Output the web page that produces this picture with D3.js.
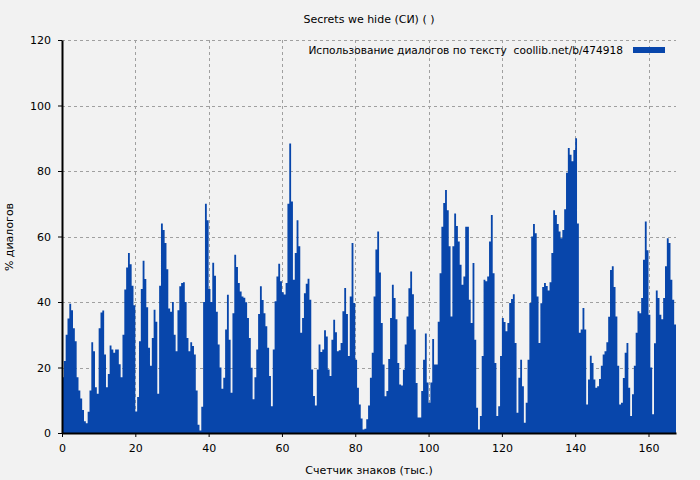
<!DOCTYPE html>
<html><head><meta charset="utf-8">
<script src="https://cdn.jsdelivr.net/npm/d3@7"></script>
<style>body{margin:0;background:#f2f2f2}svg{display:block}text{font-family:"DejaVu Sans",sans-serif;font-size:11px;fill:#000}</style>
</head><body><svg id="c" width="700" height="480"></svg>
<script>
const title = "Secrets we hide (СИ) ( )";
const legendLabel = "Использование диалогов по тексту  coollib.net/b/474918";
const xLabel = "Счетчик знаков (тыс.)";
const yLabel = "% диалогов";
const xTicks = [0,20,40,60,80,100,120,140,160];
const yTicks = [0,20,40,60,80,100,120];
const step = 0.5; // thousand characters per bar
const values = [
17,22,30,35,39.5,37.5,32,28,17,13, 10.5,7,3.6,3,6.5,13,27.7,25,14,12,
32,36.8,37.4,24,14,18,26.7,25.5,24.5,25.5, 25.5,21,17,30,43.8,50.5,55,51.5,45,39,
6.6,11,28,44,52.6,47,38.4,26,20.5,29, 37.6,34,12,45,64,62,58,50,38,37,
40,30,25,37.5,44.8,45.8,46,40,29,25, 27.7,26.6,24,13,2.5,0.8,8,40,70,65,
44,40,52,48,37,27,20,13.5,16.9,31.6, 42.2,28.5,12.3,36.6,54.4,50.7,45.8,43.2,41.7,41.3,
39.9,35.1,29,19.9,10.3,17,25.5,36.3,44.8,40.6, 36.6,32.6,26,17.4,8.2,25.5,40.2,47.8,51.7,46.3,
43,42.3,45.8,70,88.4,70.7,46.8,55,65,57, 30.6,35.1,42.7,45.6,47.1,40.7,19.4,11.3,8.4,19.4,
27,24.7,25.5,31.4,29.5,19.4,17.4,28.5,34.6,30.8, 25,25.3,27.5,37.2,44.3,36.3,23.5,41.7,58,39.7,
22.4,13.8,8.7,4.4,1.1,1.3,4.2,8.4,16.9,24.5, 41.7,56,61.5,49,33.6,20.9,11.2,12.8,22.6,35.1,
45.3,41.2,34.7,21.4,14.8,14.5,19.3,27,35.6,44.2, 49.3,42.4,31.6,15.3,4.7,4.7,12.8,22.4,30.4,15.4,
9.2,15.4,28.7,20.9,20.9,34,48.8,63,70.2,74.2, 68,57,35.6,57,67,63.2,58.5,51.4,45.3,47.8,
63,63,40.7,33.6,51.9,28.5,7.7,1.1,5.2,23.5, 46.8,46.3,47.8,58.5,66.6,48.8,21.4,5.2,8.2,23.5,
35.1,33.9,31.1,33.6,39.7,40.9,42.4,27.5,6.2,16.9, 22.4,14.3,3.1,9.2,22.4,39.7,60,63.8,61,41.7,
27.5,39.6,44.6,45.8,44.9,43.5,46,55,68,66.6, 63.8,61.5,59.5,62,68.3,79.5,87,85,83,86.4,
90,64,30.6,31.6,38.2,31.6,8.7,16.3,23.6,21.4, 16.3,13.8,14.3,16.5,20.5,24,25,27.7,35.5,49.8,
50.9,44.6,35.6,20.5,8.7,9.2,16.8,24.5,27.5,13.8, 5.2,11.8,20.5,30.6,37.2,36.6,41.2,52.9,64.6,55.8,
36.1,20,5.7,27.4,43.5,41.2,36.1,34.7,41.2,50.9, 59.5,58,46.8,40.7,33.1
];
const color = "#0846ab";
const svg = d3.select("#c");
const m = {l:62, r:676, t:40, b:433};
const xMax = values.length*step;
const x = d3.scaleLinear().domain([0, xMax]).range([m.l, m.r]);
const y = d3.scaleLinear().domain([0, 120]).range([m.b, m.t]);

const grid = svg.append("g").attr("stroke","#a0a0a0").attr("stroke-dasharray","3,3").attr("stroke-width",1);
xTicks.filter(d=>d>0).forEach(d=>grid.append("line").attr("x1",Math.round(x(d))+0.5).attr("x2",Math.round(x(d))+0.5).attr("y1",m.t).attr("y2",m.b));
yTicks.filter(d=>d>0).forEach(d=>grid.append("line").attr("x1",m.l).attr("x2",m.r).attr("y1",Math.round(y(d))+0.5).attr("y2",Math.round(y(d))+0.5));

const pts = values.map((v,i)=>[i*step, v]).concat([[xMax, values[values.length-1]]]);
const area = d3.area().x(d=>x(d[0])).y0(y(0)).y1(d=>y(d[1])).curve(d3.curveStepAfter);
svg.append("path").datum(pts).attr("d",area).attr("fill",color);

const xa = svg.append("g").attr("transform",`translate(0,${m.b})`).call(d3.axisBottom(x).tickValues(xTicks).tickSize(4).tickSizeOuter(0));
const ya = svg.append("g").attr("transform",`translate(${m.l},0)`).call(d3.axisLeft(y).tickValues(yTicks).tickSize(4).tickSizeOuter(0));
[xa,ya].forEach(a=>{a.select(".domain").attr("stroke","#000").attr("stroke-width",2);a.selectAll("text").attr("font-family","DejaVu Sans").attr("font-size",11);});
xa.selectAll("text").attr("dy","1.1em");
ya.selectAll("text").attr("dx","-4");

svg.append("text").attr("x",369).attr("y",23).attr("text-anchor","middle").text(title);
svg.append("text").attr("x",369).attr("y",474).attr("text-anchor","middle").text(xLabel);
svg.append("text").attr("transform","translate(13,237) rotate(-90)").attr("text-anchor","middle").text(yLabel);
svg.append("text").attr("x",623).attr("y",54).attr("text-anchor","end").attr("xml:space","preserve").style("white-space","pre").style("font-size","10.6px").text(legendLabel);
svg.append("rect").attr("x",633).attr("y",47).attr("width",32).attr("height",6).attr("fill",color);
</script></body></html>
